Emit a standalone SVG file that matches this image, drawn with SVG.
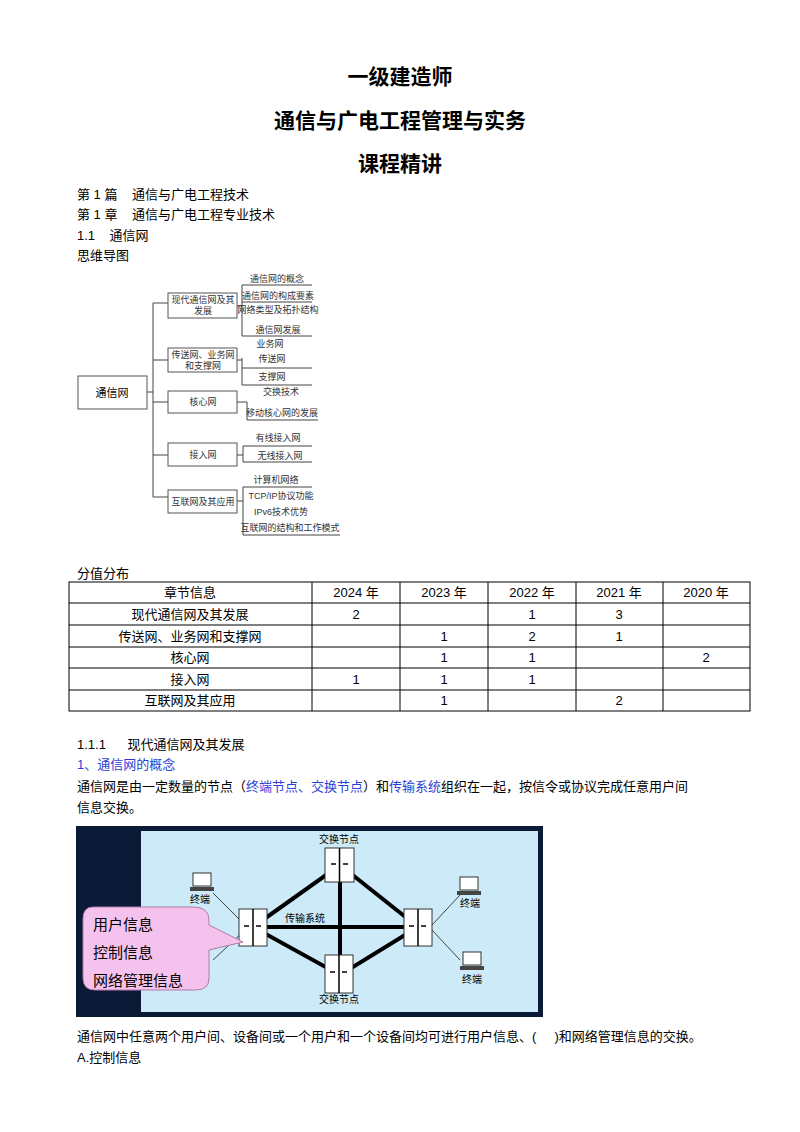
<svg xmlns="http://www.w3.org/2000/svg" width="800" height="1132" viewBox="0 0 800 1132">
<style>
text{font-family:"Liberation Sans","Noto Sans CJK SC",sans-serif;fill:#000;white-space:pre}
.t{font-size:13px}
.h{font-size:21px;font-weight:bold;text-anchor:middle}
.m{font-size:9px;fill:#333}
.mb{fill:#fff;stroke:#555;stroke-width:1}
.ln{stroke:#444;stroke-width:1;fill:none}
.tb{stroke:#000;stroke-width:1;fill:none}
.c{text-anchor:middle}
.blue{fill:#2a3fd6}
.th{stroke:#000;stroke-width:4;fill:none}
.sv{fill:#fff;stroke:#333;stroke-width:1}
</style>
<rect width="800" height="1132" fill="#fff"/>
<text class="h" x="400" y="84">一级建造师</text>
<text class="h" x="400" y="128">通信与广电工程管理与实务</text>
<text class="h" x="400" y="171">课程精讲</text>
<text class="t" x="77" y="199" xml:space="preserve">第 1 篇    通信与广电工程技术</text>
<text class="t" x="77" y="219" xml:space="preserve">第 1 章    通信与广电工程专业技术</text>
<text class="t" x="77" y="240" xml:space="preserve">1.1    通信网</text>
<text class="t" x="77" y="260">思维导图</text>
<g id="mindmap">
<g class="ln">
<path d="M147 392H153M153 303V497M153 303H168M153 360H168M153 402H168M153 455H168M153 497H168"/>
<path d="M237 306H242M242 285V336M242 285H312M242 302H312M242 336H312"/>
<path d="M237 360H242M242 358V385M242 368H312M242 385H312"/>
<path d="M237 402H247M247 402V420M247 420H318"/>
<path d="M237 455H243M243 446V462M243 446H312M243 462H312"/>
<path d="M237 501H243M243 487V535M243 487H312M243 535H340"/>
</g>
<rect x="78" y="376" width="69" height="33" class="mb" stroke-width="1.5"/>
<text x="112" y="397" class="c" font-size="11">通信网</text>
<rect x="168" y="293" width="69" height="25" class="mb"/>
<text x="203" y="303" class="c m">现代通信网及其</text><text x="203" y="314" class="c m">发展</text>
<rect x="168" y="348" width="69" height="24" class="mb"/>
<text x="203" y="358" class="c m">传送网、业务网</text><text x="203" y="369" class="c m">和支撑网</text>
<rect x="168" y="391" width="69" height="22" class="mb"/><text x="203" y="405" class="c m">核心网</text>
<rect x="168" y="443" width="69" height="23" class="mb"/><text x="203" y="458" class="c m">接入网</text>
<rect x="168" y="490" width="69" height="23" class="mb"/><text x="203" y="505" class="c m">互联网及其应用</text>
<text x="277" y="282" class="c m" font-size="8">通信网的概念</text>
<text x="278" y="299" class="c m" font-size="8">通信网的构成要素</text>
<text x="278" y="313" class="c m" font-size="8">网络类型及拓扑结构</text>
<text x="278" y="333" class="c m" font-size="8">通信网发展</text>
<text x="270" y="347" class="c m" font-size="8">业务网</text>
<text x="272" y="362" class="c m" font-size="8">传送网</text>
<text x="272" y="380" class="c m" font-size="8">支撑网</text>
<text x="281" y="395" class="c m" font-size="8">交换技术</text>
<text x="282" y="416" class="c m" font-size="8">移动核心网的发展</text>
<text x="278" y="441" class="c m" font-size="8">有线接入网</text>
<text x="280" y="459" class="c m" font-size="8">无线接入网</text>
<text x="276" y="483" class="c m" font-size="8">计算机网络</text>
<text x="281" y="499" class="c m" font-size="8">TCP/IP协议功能</text>
<text x="281" y="515" class="c m" font-size="8">IPv6技术优势</text>
<text x="290" y="531" class="c m" font-size="8">互联网的结构和工作模式</text>
</g>
<text class="t" x="77" y="578">分值分布</text>
<g id="table">
<rect x="69" y="582" width="681" height="129" class="tb"/>
<path class="tb" d="M69 603H750M69 625H750M69 647H750M69 668H750M69 690H750M312 582V711M400 582V711M488 582V711M576 582V711M663 582V711"/>
<text x="190" y="597" class="c t">章节信息</text>
<text x="356" y="597" class="c t">2024 年</text><text x="444" y="597" class="c t">2023 年</text><text x="532" y="597" class="c t">2022 年</text><text x="619" y="597" class="c t">2021 年</text><text x="706" y="597" class="c t">2020 年</text>
<text x="190" y="619" class="c t">现代通信网及其发展</text><text x="356" y="619" class="c t">2</text><text x="532" y="619" class="c t">1</text><text x="619" y="619" class="c t">3</text>
<text x="190" y="641" class="c t">传送网、业务网和支撑网</text><text x="444" y="641" class="c t">1</text><text x="532" y="641" class="c t">2</text><text x="619" y="641" class="c t">1</text>
<text x="190" y="662" class="c t">核心网</text><text x="444" y="662" class="c t">1</text><text x="532" y="662" class="c t">1</text><text x="706" y="662" class="c t">2</text>
<text x="190" y="684" class="c t">接入网</text><text x="356" y="684" class="c t">1</text><text x="444" y="684" class="c t">1</text><text x="532" y="684" class="c t">1</text>
<text x="190" y="705" class="c t">互联网及其应用</text><text x="444" y="705" class="c t">1</text><text x="619" y="705" class="c t">2</text>
</g>
<text class="t" x="77" y="749" xml:space="preserve">1.1.1      现代通信网及其发展</text>
<text class="t blue" x="77" y="769">1、通信网的概念</text>
<text class="t" x="77" y="791">通信网是由一定数量的节点（<tspan class="blue">终端节点、交换节点</tspan>）和<tspan class="blue">传输系统</tspan>组织在一起，按信令或协议完成任意用户间</text>
<text class="t" x="77" y="812">信息交换。</text>
<g id="network">
<rect x="76" y="826" width="467" height="191" fill="#0b1a36"/>
<rect x="141" y="831" width="397" height="181" fill="#cdeaf8"/>
<g class="ln" stroke="#333" stroke-width="0.7">
<path d="M213 893L245 925M213 960L245 930M432 925L460 895M432 930L460 960"/>
</g>
<path class="th" d="M253 927L340 865L418 927L340 975ZM253 927H418M340 865V975"/>
<g id="sw-top"><rect x="325" y="848" width="29" height="34" class="sv"/><path d="M339.5 848V882M331 864h5M343 864h5" stroke="#000" stroke-width="1.5"/></g>
<g id="sw-left"><rect x="239" y="909" width="28" height="37" class="sv"/><path d="M253 909V946M244 926h5M256 926h5" stroke="#000" stroke-width="1.5"/></g>
<g id="sw-right"><rect x="404" y="909" width="28" height="37" class="sv"/><path d="M418 909V946M409 926h5M421 926h5" stroke="#000" stroke-width="1.5"/></g>
<g id="sw-bottom"><rect x="325" y="955" width="28" height="38" class="sv"/><path d="M339 955V993M330 972h5M342 972h5" stroke="#000" stroke-width="1.5"/></g>
<g id="pc1"><rect x="193" y="873" width="18" height="13" fill="#fff" stroke="#333"/><rect x="190" y="887" width="24" height="4" fill="#444"/></g>
<g id="pc2"><rect x="460" y="877" width="18" height="13" fill="#fff" stroke="#333"/><rect x="457" y="891" width="24" height="4" fill="#444"/></g>
<g id="pc3"><rect x="463" y="952" width="18" height="13" fill="#fff" stroke="#333"/><rect x="460" y="966" width="24" height="4" fill="#444"/></g>
<text x="339" y="843" class="c" font-size="10">交换节点</text>
<text x="339" y="1003" class="c" font-size="10">交换节点</text>
<text x="200" y="903" class="c" font-size="10">终端</text>
<text x="470" y="907" class="c" font-size="10">终端</text>
<text x="472" y="983" class="c" font-size="10">终端</text>
<text x="305" y="922" class="c" font-size="10">传输系统</text>
<path d="M93 907H193Q209 907 209 920V925L243 942L209 950V978Q209 990 196 990H95Q83 990 83 978V919Q83 907 93 907Z" fill="#f5c2ee" stroke="#b07aa8"/>
<text x="93" y="930" font-size="15" fill="#333">用户信息</text>
<text x="93" y="958" font-size="15" fill="#333">控制信息</text>
<text x="93" y="986" font-size="15" fill="#333">网络管理信息</text>
</g>
<text class="t" x="77" y="1041" xml:space="preserve">通信网中任意两个用户间、设备间或一个用户和一个设备间均可进行用户信息、(     )和网络管理信息的交换。</text>
<text class="t" x="77" y="1062">A.控制信息</text>
</svg>
